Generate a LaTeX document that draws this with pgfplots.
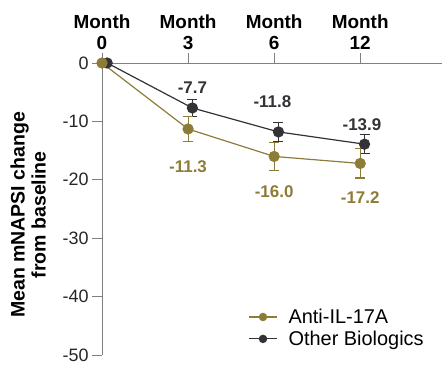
\documentclass[border=0pt]{standalone}
\usepackage{fontspec}
\setmainfont{Liberation Sans}
\usepackage{pgfplots}
\pgfplotsset{compat=1.18}
\definecolor{antiC}{RGB}{140,124,56}
\definecolor{darkC}{RGB}{50,50,55}
\definecolor{axisC}{RGB}{128,128,128}
\begin{document}
\begin{tikzpicture}
\begin{axis}[
  scale only axis, width=340bp, height=292bp,
  xmin=0, xmax=3.95, ymin=-50, ymax=0,
  clip=false,
  axis x line*=top, axis y line*=left,
  axis line style={axisC, line width=0.9bp},
  major tick style={axisC, line width=0.9bp},
  tick align=outside, major tick length=10bp,
  xtick={0,1,2,3},
  xticklabels={{Month\\0},{Month\\3},{Month\\6},{Month\\12}},
  xticklabel style={align=center, font=\fontsize{19}{21}\selectfont\bfseries, text=black},
  ytick={0,-10,-20,-30,-40,-50},
  yticklabel style={font=\fontsize{18}{20}\selectfont, text=black!85},
  /pgf/number format/assume math mode=true,
  ylabel={Mean mNAPSI change\\from baseline},
  ylabel shift=10bp,
  ylabel style={at={(ticklabel cs:0.48)}, align=center, font=\fontsize{19.6}{21}\selectfont\bfseries},
  reverse legend,
  legend cell align=left,
  legend style={draw=none, fill=none, at={(rel axis cs:0.43,0.165)}, anchor=north west,
    font=\fontsize{20}{22}\selectfont, inner sep=0pt, column sep=9bp, row sep=2bp},
  legend image code/.code={\draw[mark repeat=2,mark phase=2,#1,mark size=3.6bp] plot coordinates {(0bp,0bp) (14bp,0bp) (28bp,0bp)};},
]
\addplot[darkC, line width=1.2bp, mark=*, mark size=5bp,
  error bars/.cd, y dir=both, y explicit,
  error bar style={line width=1.1bp, darkC},
  error mark options={rotate=90, mark size=5bp, line width=1.1bp, darkC}]
  table[x=x, y=y, y error=e] {
x y e
0.06 0 0
1.05 -7.7 1.5
2.05 -11.8 1.6
3.05 -13.9 1.6
};
\addlegendentry{Other Biologics}
\addplot[antiC, line width=1.2bp, mark=*, mark size=5bp,
  error bars/.cd, y dir=both, y explicit,
  error bar style={line width=1.1bp, antiC},
  error mark options={rotate=90, mark size=5bp, line width=1.1bp, antiC}]
  table[x=x, y=y, y error=e] {
x y e
0 0 0
1 -11.3 2.1
2 -16.0 2.4
3 -17.2 2.5
};
\addlegendentry{Anti-IL-17A}
\begin{scope}[every node/.style={font=\fontsize{17}{19}\selectfont\bfseries}]
\node[text=darkC] at (axis cs:1.05,-4.28) {-7.7};
\node[text=darkC] at (axis cs:1.98,-6.68) {-11.8};
\node[text=darkC] at (axis cs:3.02,-10.6) {-13.9};
\node[text=antiC] at (axis cs:1.0,-17.8) {-11.3};
\node[text=antiC] at (axis cs:2.0,-22.1) {-16.0};
\node[text=antiC] at (axis cs:3.0,-23.1) {-17.2};
\end{scope}
\end{axis}
\pgfresetboundingbox
\path[use as bounding box] (-102bp,-11bp) rectangle (340bp,355bp);
\end{tikzpicture}
\end{document}
